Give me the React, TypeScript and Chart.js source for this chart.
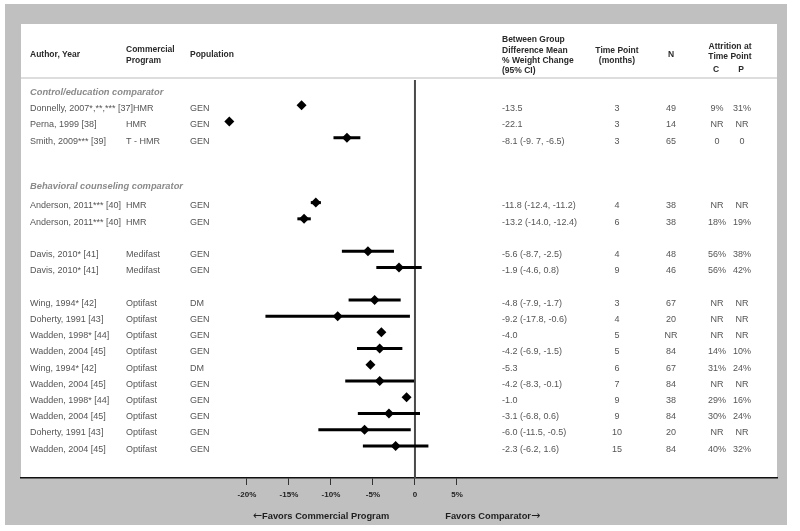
import React, { useEffect, useRef } from "react";
import { Chart, registerables } from "chart.js";

Chart.register(...registerables);

// ---- data ----
const authors = [
  "Donnelly, 2007*,**,*** [37]",
  "Perna, 1999 [38]",
  "Smith, 2009*** [39]",
  "Anderson, 2011*** [40]",
  "Anderson, 2011*** [40]",
  "Davis, 2010* [41]",
  "Davis, 2010* [41]",
  "Wing, 1994* [42]",
  "Doherty, 1991 [43]",
  "Wadden, 1998* [44]",
  "Wadden, 2004 [45]",
  "Wing, 1994* [42]",
  "Wadden, 2004 [45]",
  "Wadden, 1998* [44]",
  "Wadden, 2004 [45]",
  "Doherty, 1991 [43]",
  "Wadden, 2004 [45]",
];
const programs = [
  "HMR", "HMR", "T - HMR", "HMR", "HMR", "Medifast", "Medifast",
  "Optifast", "Optifast", "Optifast", "Optifast", "Optifast", "Optifast",
  "Optifast", "Optifast", "Optifast", "Optifast",
];
const populations = [
  "GEN", "GEN", "GEN", "GEN", "GEN", "GEN", "GEN",
  "DM", "GEN", "GEN", "GEN", "DM", "GEN", "GEN", "GEN", "GEN", "GEN",
];
// row slots (top to bottom)
const rowSlots = [0, 1, 2, 6, 7, 9, 10, 12, 13, 14, 15, 16, 17, 18, 19, 20, 21];
const means = [-13.5, -22.1, -8.1, -11.8, -13.2, -5.6, -1.9, -4.8, -9.2, -4.0, -4.2, -5.3, -4.2, -1.0, -3.1, -6.0, -2.3];
const ciLow = [null, null, -9.7, -12.4, -14.0, -8.7, -4.6, -7.9, -17.8, null, -6.9, null, -8.3, null, -6.8, -11.5, -6.2];
const ciHigh = [null, null, -6.5, -11.2, -12.4, -2.5, 0.8, -1.7, -0.6, null, -1.5, null, -0.1, null, 0.6, -0.5, 1.6];
const effectLabels = [
  "-13.5", "-22.1", "-8.1 (-9. 7, -6.5)", "-11.8 (-12.4, -11.2)", "-13.2 (-14.0, -12.4)",
  "-5.6 (-8.7, -2.5)", "-1.9 (-4.6, 0.8)", "-4.8 (-7.9, -1.7)", "-9.2 (-17.8, -0.6)", "-4.0",
  "-4.2 (-6.9, -1.5)", "-5.3", "-4.2 (-8.3, -0.1)", "-1.0", "-3.1 (-6.8, 0.6)", "-6.0 (-11.5, -0.5)",
  "-2.3 (-6.2, 1.6)",
];
const timePoints = ["3", "3", "3", "4", "6", "4", "9", "3", "4", "5", "5", "6", "7", "9", "9", "10", "15"];
const sampleN = ["49", "14", "65", "38", "38", "48", "46", "67", "20", "NR", "84", "67", "84", "38", "84", "20", "84"];
const attritionC = ["9%", "NR", "0", "NR", "18%", "56%", "56%", "NR", "NR", "NR", "14%", "31%", "NR", "29%", "30%", "NR", "40%"];
const attritionP = ["31%", "NR", "0", "NR", "19%", "38%", "42%", "NR", "NR", "NR", "10%", "24%", "NR", "16%", "24%", "NR", "32%"];
const sectionTitles = ["Control/education comparator", "Behavioral counseling comparator"];
const sectionSlots = [-0.97, 4.77];
const xTicks = [-20, -15, -10, -5, 0, 5];
const xMin = -46.9;
const xMax = 43.1;
const yMin = -1.56;
const yMax = 22.98;

const FONT = '"Liberation Sans", Arial, sans-serif';
const ARROW_FONT = '"DejaVu Sans", sans-serif';

const framePlugin = {
  id: "frame",
  beforeDraw(chart: any) {
    const ctx = chart.ctx;
    const { left, right, top, bottom } = chart.chartArea;
    ctx.save();
    ctx.fillStyle = "#ffffff";
    ctx.fillRect(0, 0, chart.width, chart.height);
    ctx.fillStyle = "#c0c0c0";
    ctx.fillRect(5, 4, 782, 521);
    ctx.fillStyle = "#ffffff";
    ctx.fillRect(left, 24, right - left, bottom - 24);
    // header separator
    ctx.strokeStyle = "#d2d2d2";
    ctx.lineWidth = 1.5;
    ctx.beginPath();
    ctx.moveTo(left, top - 2);
    ctx.lineTo(right, top - 2);
    ctx.stroke();
    ctx.restore();
  },
  beforeDatasetsDraw(chart: any) {
    const ctx = chart.ctx;
    const x0 = chart.scales.x.getPixelForValue(0);
    const { top, bottom } = chart.chartArea;
    ctx.save();
    ctx.strokeStyle = "#4a4a4a";
    ctx.lineWidth = 2;
    ctx.beginPath();
    ctx.moveTo(x0, top);
    ctx.lineTo(x0, bottom);
    ctx.stroke();
    ctx.restore();
  },
  afterDraw(chart: any) {
    const ctx = chart.ctx;
    const ys = chart.scales.y;
    const xs = chart.scales.x;
    ctx.save();
    ctx.textBaseline = "middle";

    // column headers
    ctx.fillStyle = "#2a2a2a";
    ctx.font = `bold 8.5px ${FONT}`;
    ctx.textAlign = "left";
    ctx.fillText("Author, Year", 30, 55);
    ctx.fillText("Commercial", 126, 50);
    ctx.fillText("Program", 126, 61);
    ctx.fillText("Population", 190, 55);
    ctx.fillText("Between Group", 502, 40);
    ctx.fillText("Difference Mean", 502, 50.3);
    ctx.fillText("% Weight Change", 502, 60.6);
    ctx.fillText("(95% CI)", 502, 71);
    ctx.textAlign = "center";
    ctx.fillText("Time Point", 617, 50.5);
    ctx.fillText("(months)", 617, 61);
    ctx.fillText("N", 671, 55);
    ctx.fillText("Attrition at", 730, 46.5);
    ctx.fillText("Time Point", 730, 57);
    ctx.fillText("C", 716, 69.5);
    ctx.fillText("P", 741, 69.5);

    // section titles
    ctx.textAlign = "left";
    ctx.fillStyle = "#8a8a8a";
    ctx.font = `italic bold 9.3px ${FONT}`;
    sectionTitles.forEach((t, i) => {
      ctx.fillText(t, 30, ys.getPixelForValue(sectionSlots[i]) + 3.3);
    });

    // rows
    ctx.fillStyle = "#555555";
    ctx.font = `9px ${FONT}`;
    rowSlots.forEach((k, i) => {
      const y = ys.getPixelForValue(k) + 3.3;
      ctx.textAlign = "left";
      ctx.fillText(authors[i], 30, y);
      const aEnd = 30 + ctx.measureText(authors[i]).width;
      ctx.fillText(programs[i], Math.max(126, aEnd), y);
      ctx.fillText(populations[i], 190, y);
      ctx.fillText(effectLabels[i], 502, y);
      ctx.textAlign = "center";
      ctx.fillText(timePoints[i], 617, y);
      ctx.fillText(sampleN[i], 671, y);
      ctx.fillText(attritionC[i], 717, y);
      ctx.fillText(attritionP[i], 742, y);
    });

    // favors labels
    ctx.fillStyle = "#1e1e1e";
    ctx.textAlign = "left";
    const leftText = "Favors Commercial Program";
    ctx.font = `bold 9.3px ${FONT}`;
    const ltW = ctx.measureText(leftText).width;
    ctx.font = `11px ${ARROW_FONT}`;
    const arW = ctx.measureText("\u2190").width;
    const startX = 321 - (ltW + arW) / 2;
    ctx.fillText("\u2190", startX, 516.5);
    ctx.font = `bold 9.3px ${FONT}`;
    ctx.fillText(leftText, startX + arW, 516.5);
    const rx = xs.getPixelForValue(3.6);
    const rightText = "Favors Comparator";
    ctx.fillText(rightText, rx, 516.5);
    const rtW = ctx.measureText(rightText).width;
    ctx.font = `11px ${ARROW_FONT}`;
    ctx.fillText("\u2192", rx + rtW, 516.5);
    ctx.restore();
  },
};

export default function App() {
  const ref = useRef<HTMLCanvasElement | null>(null);
  useEffect(() => {
    document.body.style.margin = "0";
    if (!ref.current) return;
    const ciSets = rowSlots
      .map((k, i) => ({ k, i }))
      .filter(({ i }) => ciLow[i] !== null)
      .map(({ k, i }) => ({
        type: "scatter" as const,
        data: [
          { x: ciLow[i] as number, y: k },
          { x: ciHigh[i] as number, y: k },
        ],
        showLine: true,
        borderColor: "#000000",
        borderWidth: 3,
        pointRadius: 0,
        borderCapStyle: "butt" as const,
      }));
    const chart = new Chart(ref.current, {
      type: "scatter",
      data: {
        datasets: [
          {
            data: rowSlots.map((k, i) => ({ x: means[i], y: k })),
            pointStyle: "rectRot",
            pointRadius: 5,
            backgroundColor: "#000000",
            borderColor: "#000000",
            borderWidth: 0,
          } as any,
          ...ciSets,
        ],
      },
      options: {
        animation: false,
        responsive: false,
        devicePixelRatio: 1,
        layout: { padding: { left: 21, right: 23, top: 80, bottom: 33 } },
        plugins: { legend: { display: false }, tooltip: { enabled: false } },
        scales: {
          x: {
            type: "linear",
            position: "bottom",
            min: xMin,
            max: xMax,
            afterBuildTicks: (s: any) => {
              s.ticks = xTicks.map((v) => ({ value: v }));
            },
            afterFit: (s: any) => {
              s.height = 20;
            },
            ticks: {
              callback: (v: any) => (Number(v) === 0 ? "0" : `${v}%`),
              font: { family: FONT, size: 8, weight: "bold" },
              color: "#222222",
              padding: 5,
              maxRotation: 0,
            },
            grid: {
              display: true,
              drawOnChartArea: false,
              drawTicks: true,
              tickLength: 7,
              color: "#333333",
              lineWidth: 1,
            },
            border: { display: true, color: "#111111", width: 1.5 },
          },
          y: {
            type: "linear",
            display: false,
            min: yMin,
            max: yMax,
            reverse: true,
          },
        },
      },
      plugins: [framePlugin],
    });
    return () => chart.destroy();
  }, []);
  return (
    <div style={{ width: 800, height: 531 }}>
      <canvas ref={ref} width={800} height={531} />
    </div>
  );
}
